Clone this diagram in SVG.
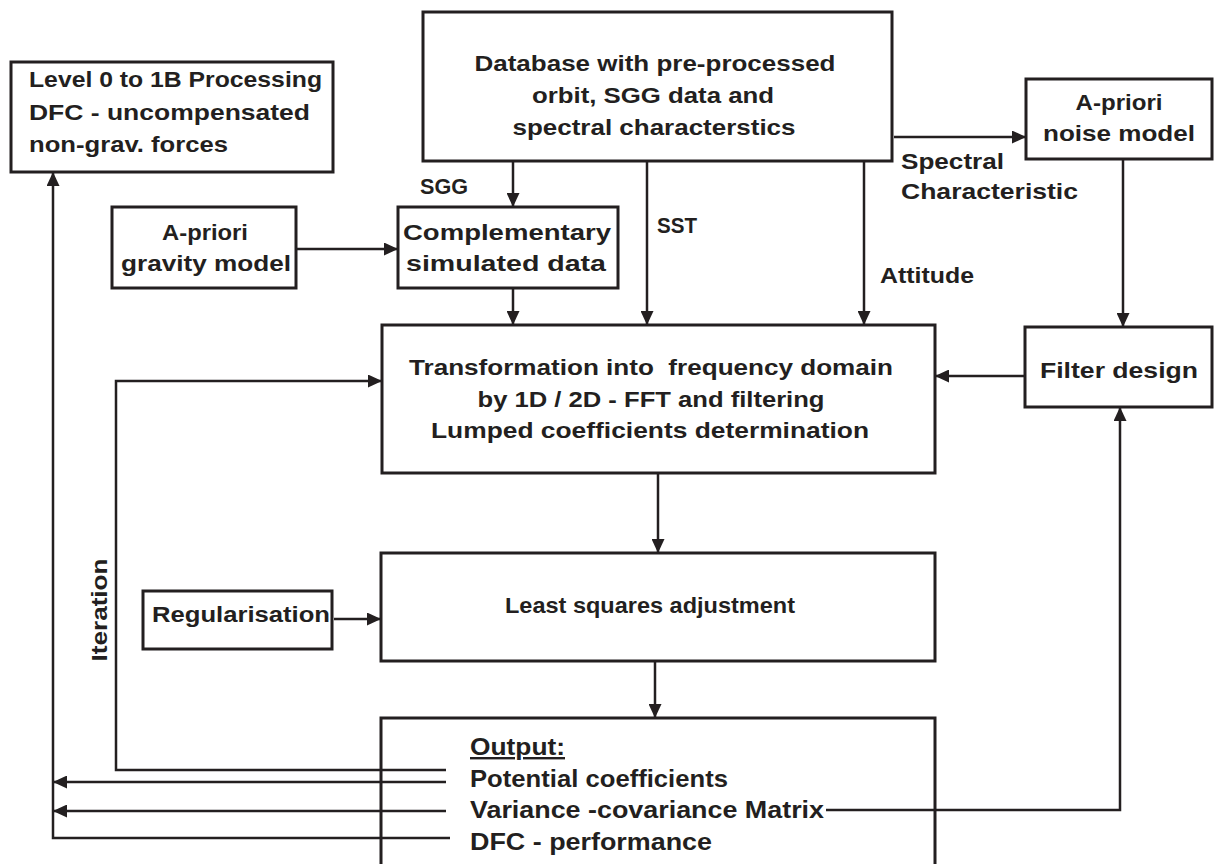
<svg xmlns="http://www.w3.org/2000/svg" width="1215" height="864" viewBox="0 0 1215 864">
  <style>
    .box { fill: #ffffff; stroke: #231f20; stroke-width: 3; }
    .ln { fill: none; stroke: #231f20; stroke-width: 2.5; }
    .t { font-family: "Liberation Sans", Arial, sans-serif; font-weight: bold; font-size: 22px; fill: #231f20; }
    .c { text-anchor: middle; }
    .o { font-size: 24px; }
  </style>
  <defs>
    <marker id="arr" viewBox="0 0 14 13" refX="14" refY="6.5" markerWidth="14" markerHeight="13" markerUnits="userSpaceOnUse" orient="auto">
      <path d="M0,0 L14,6.5 L0,13 Z" fill="#231f20"/>
    </marker>
  </defs>
  <rect width="1215" height="864" fill="#ffffff"/>

  <!-- nodes -->
  <g id="level0">
    <rect class="box" x="11" y="62" width="322" height="110"/>
    <text class="t" x="29" y="87" textLength="293" lengthAdjust="spacingAndGlyphs">Level 0 to 1B Processing</text>
    <text class="t" x="29" y="120" textLength="281" lengthAdjust="spacingAndGlyphs">DFC - uncompensated</text>
    <text class="t" x="29" y="152" textLength="199" lengthAdjust="spacingAndGlyphs">non-grav. forces</text>
  </g>

  <g id="database">
    <rect class="box" x="423" y="12" width="469" height="149"/>
    <text class="t c" x="655" y="71" textLength="361" lengthAdjust="spacingAndGlyphs">Database with pre-processed</text>
    <text class="t c" x="653" y="103" textLength="242" lengthAdjust="spacingAndGlyphs">orbit, SGG data and</text>
    <text class="t c" x="654" y="135" textLength="283" lengthAdjust="spacingAndGlyphs">spectral characterstics</text>
  </g>

  <g id="noise-model">
    <rect class="box" x="1026" y="79" width="186" height="80"/>
    <text class="t c" x="1119" y="110" textLength="87" lengthAdjust="spacingAndGlyphs">A-priori</text>
    <text class="t c" x="1119" y="141" textLength="152" lengthAdjust="spacingAndGlyphs">noise model</text>
  </g>

  <g id="gravity-model">
    <rect class="box" x="112" y="207" width="184" height="81"/>
    <text class="t c" x="205" y="240" textLength="86" lengthAdjust="spacingAndGlyphs">A-priori</text>
    <text class="t c" x="206" y="271" textLength="170" lengthAdjust="spacingAndGlyphs">gravity model</text>
  </g>

  <g id="complementary">
    <rect class="box" x="398" y="207" width="220" height="81"/>
    <text class="t c" x="507" y="240" textLength="208" lengthAdjust="spacingAndGlyphs">Complementary</text>
    <text class="t c" x="506" y="271" textLength="200" lengthAdjust="spacingAndGlyphs">simulated data</text>
  </g>

  <g id="transformation">
    <rect class="box" x="382" y="325" width="553" height="148"/>
    <text class="t c" x="651" y="375" textLength="484" lengthAdjust="spacingAndGlyphs" xml:space="preserve">Transformation into  frequency domain</text>
    <text class="t c" x="651" y="407" textLength="347" lengthAdjust="spacingAndGlyphs">by 1D / 2D - FFT and filtering</text>
    <text class="t c" x="650" y="438" textLength="438" lengthAdjust="spacingAndGlyphs">Lumped coefficients determination</text>
  </g>

  <g id="filter-design">
    <rect class="box" x="1025" y="327" width="187" height="80"/>
    <text class="t c" x="1119" y="378" textLength="158" lengthAdjust="spacingAndGlyphs">Filter design</text>
  </g>

  <g id="regularisation">
    <rect class="box" x="143" y="591" width="189" height="58"/>
    <text class="t" x="152" y="622" textLength="178" lengthAdjust="spacingAndGlyphs">Regularisation</text>
  </g>

  <g id="least-squares">
    <rect class="box" x="381" y="553" width="554" height="108"/>
    <text class="t c" x="650" y="613" textLength="290" lengthAdjust="spacingAndGlyphs">Least squares adjustment</text>
  </g>

  <g id="output">
    <rect class="box" x="381" y="718" width="554" height="160"/>
    <text class="t o" x="470" y="755" text-decoration="underline" textLength="95" lengthAdjust="spacingAndGlyphs">Output:</text>
    <text class="t o" x="470" y="787" textLength="258" lengthAdjust="spacingAndGlyphs">Potential coefficients</text>
    <text class="t o" x="470" y="818" textLength="354" lengthAdjust="spacingAndGlyphs">Variance -covariance Matrix</text>
    <text class="t o" x="470" y="850" textLength="242" lengthAdjust="spacingAndGlyphs">DFC - performance</text>
  </g>

  <!-- connectors -->
  <g id="connectors">
    <line class="ln" x1="894" y1="137" x2="1026" y2="137" marker-end="url(#arr)"/>
    <line class="ln" x1="513" y1="161" x2="513" y2="207" marker-end="url(#arr)"/>
    <line class="ln" x1="647" y1="161" x2="647" y2="325" marker-end="url(#arr)"/>
    <line class="ln" x1="864" y1="161" x2="864" y2="325" marker-end="url(#arr)"/>
    <line class="ln" x1="296" y1="249" x2="398" y2="249" marker-end="url(#arr)"/>
    <line class="ln" x1="513" y1="288" x2="513" y2="325" marker-end="url(#arr)"/>
    <line class="ln" x1="1123" y1="159" x2="1123" y2="327" marker-end="url(#arr)"/>
    <line class="ln" x1="1025" y1="376" x2="935" y2="376" marker-end="url(#arr)"/>
    <line class="ln" x1="658" y1="473" x2="658" y2="553" marker-end="url(#arr)"/>
    <line class="ln" x1="334" y1="619" x2="381" y2="619" marker-end="url(#arr)"/>
    <line class="ln" x1="655" y1="661" x2="655" y2="718" marker-end="url(#arr)"/>
    <polyline class="ln" points="446,770 116,770 116,381 382,381" marker-end="url(#arr)"/>
    <line class="ln" x1="446" y1="782" x2="53" y2="782" marker-end="url(#arr)"/>
    <line class="ln" x1="446" y1="811" x2="53" y2="811" marker-end="url(#arr)"/>
    <polyline class="ln" points="826,810 1120,810 1120,407" marker-end="url(#arr)"/>
    <polyline class="ln" points="450,838 53,838 53,172" marker-end="url(#arr)"/>
  </g>

  <!-- edge labels -->
  <g id="labels">
    <text class="t" x="420" y="194" textLength="48" lengthAdjust="spacingAndGlyphs">SGG</text>
    <text class="t" x="657" y="233" textLength="40" lengthAdjust="spacingAndGlyphs">SST</text>
    <text class="t" x="880" y="283" textLength="94" lengthAdjust="spacingAndGlyphs">Attitude</text>
    <text class="t" x="901" y="169" textLength="103" lengthAdjust="spacingAndGlyphs">Spectral</text>
    <text class="t" x="901" y="199" textLength="177" lengthAdjust="spacingAndGlyphs">Characteristic</text>
    <text class="t c" transform="translate(107,610) rotate(-90)" textLength="103" lengthAdjust="spacingAndGlyphs">Iteration</text>
  </g>
</svg>
